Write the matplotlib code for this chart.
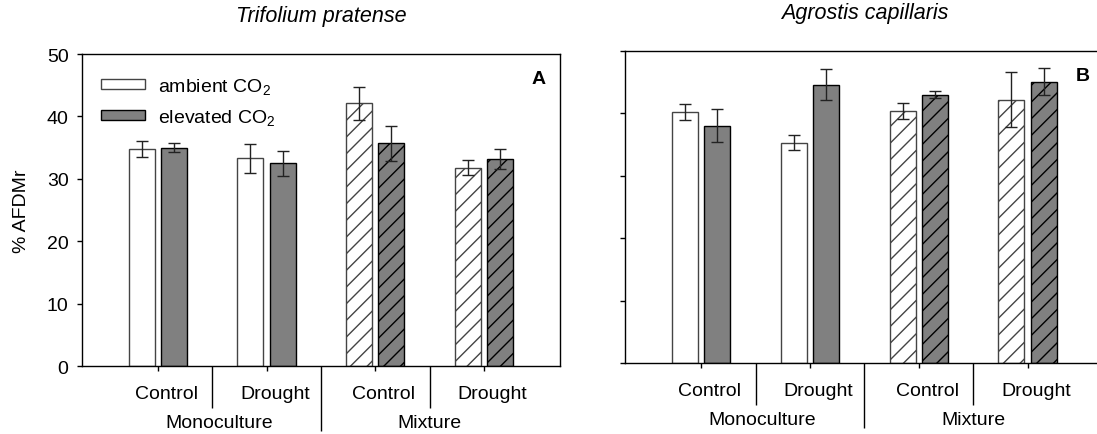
import matplotlib
matplotlib.use("Agg")
import matplotlib.pyplot as plt
from matplotlib.patches import Patch
import numpy as np

plt.rcParams['font.family'] = ['Liberation Sans', 'DejaVu Sans']
plt.rcParams['mathtext.fontset'] = 'custom'
plt.rcParams['mathtext.rm'] = 'Liberation Sans'
plt.rcParams['mathtext.it'] = 'Liberation Sans:italic'
plt.rcParams['mathtext.bf'] = 'Liberation Sans:bold'
plt.rcParams['hatch.linewidth'] = 1.0

# groups: Monoculture Control/Drought, Mixture Control/Drought
treatments = ["Control", "Drought", "Control", "Drought"]
communities = ["Monoculture", "Mixture"]
species = ["Trifolium pratense", "Agrostis capillaris"]
panel_labels = ["A", "B"]

trif_ambient = [34.8, 33.3, 42.1, 31.8]
trif_ambient_err = [1.3, 2.3, 2.6, 1.25]
trif_elevated = [35.0, 32.5, 35.7, 33.1]
trif_elevated_err = [0.75, 2.0, 2.8, 1.6]

agro_ambient = [40.2, 35.3, 40.4, 42.2]
agro_ambient_err = [1.3, 1.2, 1.3, 4.45]
agro_elevated = [38.0, 44.6, 43.0, 45.1]
agro_elevated_err = [2.65, 2.45, 0.6, 2.2]

GREY = '#808080'
FS = 14

fig = plt.figure(figsize=(10.97, 4.35), dpi=100)
ax1 = fig.add_axes([0.0745, 0.1563, 0.436, 0.7172])
ax2 = fig.add_axes([0.5697, 0.1632, 0.4364, 0.7172])

x = np.arange(1, 5)
width = 0.24
offset = 0.148

panels = [
    (ax1, trif_ambient, trif_ambient_err, trif_elevated, trif_elevated_err),
    (ax2, agro_ambient, agro_ambient_err, agro_elevated, agro_elevated_err),
]

for i, (ax, amb, amb_err, elev, elev_err) in enumerate(panels):
    b1 = ax.bar(x - offset, amb, width, color='white', edgecolor='#444444', linewidth=1.0, zorder=2)
    b2 = ax.bar(x + offset, elev, width, color=GREY, edgecolor='black', linewidth=1.0, zorder=2)
    for bar in list(b1[2:]) + list(b2[2:]):
        bar.set_hatch('//')
    ax.errorbar(x - offset, amb, yerr=amb_err, fmt='none', ecolor='#222222',
                elinewidth=1.0, capsize=4, capthick=1.0, zorder=3)
    ax.errorbar(x + offset, elev, yerr=elev_err, fmt='none', ecolor='#222222',
                elinewidth=1.0, capsize=4, capthick=1.0, zorder=3)

    ax.set_xlim(0.3, 4.7)
    ax.set_ylim(0, 50)
    ax.set_yticks([0, 10, 20, 30, 40, 50])
    ax.set_xticks(x)
    ax.set_xticklabels([])
    ax.tick_params(axis='both', direction='out', length=3.5, width=1.0, labelsize=FS, pad=6)
    for sp in ax.spines.values():
        sp.set_linewidth(1.0)

    # treatment labels and separators under the axis
    tr = ax.get_xaxis_transform()
    for xi, t in zip(x, treatments):
        ax.text(xi + 0.08, -0.104, t, transform=tr, ha='center', va='baseline', fontsize=FS)
    ax.vlines([1.5, 3.5], -0.135, 0, transform=tr, colors='black', linewidth=1.0, clip_on=False)
    ax.vlines([2.5], -0.208, 0, transform=tr, colors='black', linewidth=1.0, clip_on=False)
    ax.text(1.56, -0.197, communities[0], transform=tr, ha='center', va='baseline', fontsize=FS)
    ax.text(3.5, -0.197, communities[1], transform=tr, ha='center', va='baseline', fontsize=FS)

    ax.set_title(species[i], fontsize=15.5, style='italic', pad=24)
    ax.text(0.956, 0.923, panel_labels[i], transform=ax.transAxes, ha='center', va='center',
            fontsize=FS, fontweight='bold')

ax2.set_yticklabels([])

handles = [Patch(facecolor='white', edgecolor='#444444', linewidth=1.0),
           Patch(facecolor=GREY, edgecolor='black', linewidth=1.0)]
ax1.legend(handles, ['ambient CO$_2$', 'elevated CO$_2$'], loc='upper left',
           bbox_to_anchor=(0.0397, 0.93), frameon=False, fontsize=FS,
           handlelength=2.3, handleheight=0.42, handletextpad=0.64,
           labelspacing=0.55, borderpad=0, borderaxespad=0)

fig.text(0.0198, 0.515, '% AFDMr', rotation=90, ha='center', va='center', fontsize=FS)

fig.savefig('out.png', dpi=100)
